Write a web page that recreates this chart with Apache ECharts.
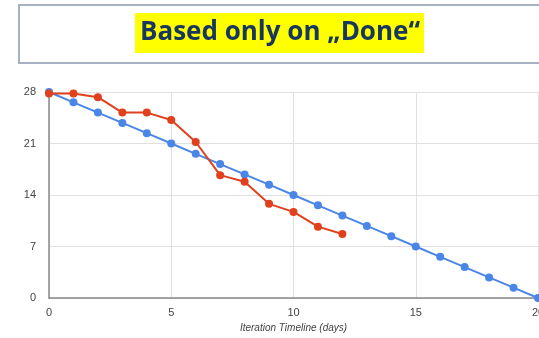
<!DOCTYPE html>
<html>
<head>
<meta charset="utf-8">
<script src="https://cdn.jsdelivr.net/npm/echarts@6/dist/echarts.min.js"></script>
<style>html,body{margin:0;padding:0;background:#fff;}#c{width:539px;height:338px;}</style>
</head>
<body>
<div id="c"></div>
<script>
var days = [0,1,2,3,4,5,6,7,8,9,10,11,12,13,14,15,16,17,18,19,20];
var ideal = [28,26.6,25.2,23.8,22.4,21,19.6,18.2,16.8,15.4,14,12.6,11.2,9.8,8.4,7,5.6,4.2,2.8,1.4,0];
var actual = [27.8,27.8,27.3,25.2,25.2,24.2,21.2,16.7,15.8,12.8,11.7,9.7,8.7];
var yTicks = [0,7,14,21,28];
var xTicks = [0,5,10,15,20];
var titleText = 'Based only on \u201EDone\u201C';
var xName = 'Iteration Timeline (days)';

var chart = echarts.init(document.getElementById('c'), null, {renderer:'canvas'});
chart.setOption({
  animation:false,
  graphic:[
    {type:'rect', shape:{x:19, y:5, width:530, height:58}, style:{fill:'#fff', stroke:'#a6b2c4', lineWidth:2}},
    {type:'rect', shape:{x:135, y:13, width:289, height:40}, style:{fill:'#ffff00'}},
    {type:'text', x:280, y:33, style:{text:titleText, fill:'#17375e', font:'bold 26px "Open Sans"', align:'center', verticalAlign:'middle'}}
  ],
  grid:{left:49, right:1, top:92, bottom:40, containLabel:false, outerBoundsMode:'none'},
  xAxis:{
    type:'value', min:0, max:20, interval:5,
    name:xName, nameLocation:'middle', nameGap:22,
    nameTextStyle:{fontStyle:'italic', fontSize:10, color:'#444', fontFamily:'Arial'},
    axisLine:{show:true, lineStyle:{color:'#888', width:1.5}},
    axisTick:{show:false},
    axisLabel:{color:'#444', fontSize:11, fontFamily:'Arial', margin:9, hideOverlap:false,
      formatter:function(v){return xTicks.indexOf(v)>=0 ? String(v) : '';}},
    splitLine:{show:true, lineStyle:{color:'#e0e0e0', width:1}}
  },
  yAxis:{
    type:'value', min:0, max:28, interval:7,
    axisLine:{show:true, lineStyle:{color:'#888', width:1.5}},
    axisTick:{show:false},
    axisLabel:{color:'#444', fontSize:11, fontFamily:'Arial', margin:13,
      formatter:function(v){return yTicks.indexOf(v)>=0 ? String(v) : '';}},
    splitLine:{show:true, lineStyle:{color:'#e0e0e0', width:1}}
  },
  series:[
    {type:'line', data:days.map(function(d,i){return [d, ideal[i]];}), symbol:'circle', symbolSize:8,
     lineStyle:{color:'#4a86e8', width:2}, itemStyle:{color:'#4a86e8'}, z:2},
    {type:'line', data:actual.map(function(v,i){return [days[i], v];}), symbol:'circle', symbolSize:8,
     lineStyle:{color:'#e0401c', width:2}, itemStyle:{color:'#e0401c'}, z:3}
  ]
});
</script>
</body>
</html>
